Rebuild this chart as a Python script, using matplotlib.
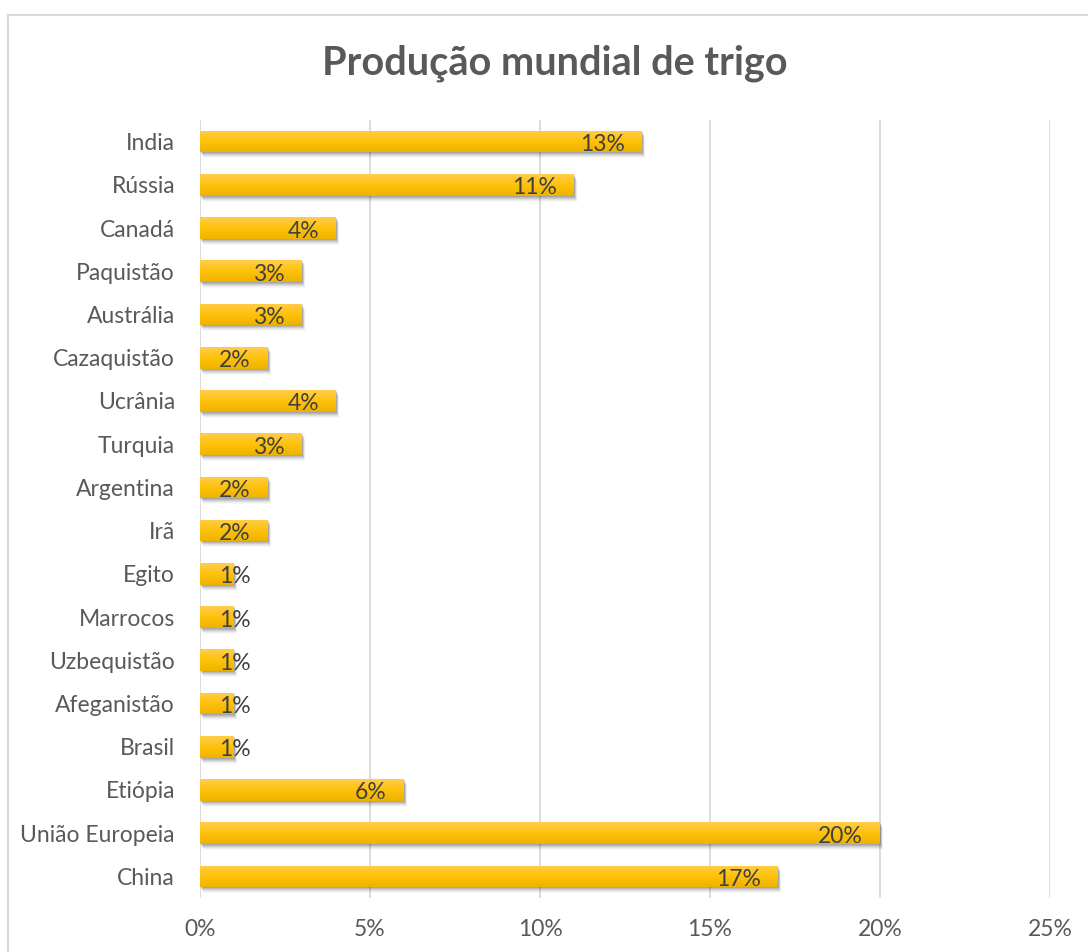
import numpy as np
import matplotlib.pyplot as plt
from matplotlib.patches import Rectangle
from matplotlib.lines import Line2D
from matplotlib.colors import LinearSegmentedColormap
from matplotlib.transforms import offset_copy

plt.rcParams['font.family'] = ['Lato', 'DejaVu Sans']

countries = ['India', 'Rússia', 'Canadá', 'Paquistão', 'Austrália', 'Cazaquistão',
             'Ucrânia', 'Turquia', 'Argentina', 'Irã', 'Egito', 'Marrocos',
             'Uzbequistão', 'Afeganistão', 'Brasil', 'Etiópia', 'União Europeia', 'China']
shares = [13, 11, 4, 3, 3, 2, 4, 3, 2, 2, 1, 1, 1, 1, 1, 6, 20, 17]
xticks = [0, 5, 10, 15, 20, 25]

text_grey = '#595959'
grid_grey = '#d9d9d9'
gold = LinearSegmentedColormap.from_list('gold', ['#ffcd4d', '#ffc20a', '#eeb200'])
fs = 16.5

W, H = 1088, 952
fig = plt.figure(figsize=(W / 100, H / 100), dpi=100)
ax = fig.add_axes([200 / W, 1 - 898 / H, 850 / W, 778 / H])

n = len(countries)
ypos = np.arange(n)
bh = 0.5
grad = np.linspace(0, 1, 64).reshape(-1, 1)

for i, v in zip(ypos, shares):
    # soft drop shadow under each bar
    for k, a in zip(range(1, 7), [0.14, 0.12, 0.10, 0.07, 0.05, 0.03]):
        tr = offset_copy(ax.transData, fig=fig, x=k * 0.5, y=-k * 1.0, units='dots')
        ax.add_patch(Rectangle((0, i - bh / 2), v, bh, transform=tr,
                               facecolor='#303030', edgecolor='none', alpha=a, zorder=2))
    rect = Rectangle((0, i - bh / 2), v, bh, facecolor='none', edgecolor='none', zorder=3)
    ax.add_patch(rect)
    im = ax.imshow(grad, cmap=gold, aspect='auto', origin='upper',
                   extent=(0, v, i + bh / 2, i - bh / 2), zorder=3)
    im.set_clip_path(rect)

    if v * 34 - 17 < 30:
        ax.annotate(f'{v}%', xy=(v, i), xytext=(1, -3), textcoords='offset pixels',
                    ha='center', va='center', fontsize=fs, color='#404040', zorder=4)
    else:
        ax.annotate(f'{v}%', xy=(v, i), xytext=(-17, -3), textcoords='offset pixels',
                    ha='right', va='center', fontsize=fs, color='#404040', zorder=4)

ax.set_xlim(0, 25)
ax.set_ylim(n - 0.5, -0.5)
ax.set_xticks(xticks)
ax.set_xticklabels([f'{t}%' for t in xticks])
ax.set_yticks(ypos)
ax.set_yticklabels(countries)
ax.tick_params(axis='both', length=0, labelsize=fs, labelcolor=text_grey)
ax.tick_params(axis='x', pad=15)
ax.tick_params(axis='y', pad=18)
ax.grid(axis='x', color=grid_grey, linewidth=1.3, zorder=0)
ax.set_axisbelow(True)
for s in ax.spines.values():
    s.set_visible(False)

fig.text(555 / W, 1 - 63 / H, 'Produção mundial de trigo', ha='center', va='center',
         fontsize=28.5, fontweight='bold', color=text_grey)

# chart frame (left and top edges)
fig.add_artist(Line2D([8 / W, 8 / W], [0, 1 - 15 / H], color=grid_grey, linewidth=1.5))
fig.add_artist(Line2D([8 / W, 1], [1 - 15 / H, 1 - 15 / H], color=grid_grey, linewidth=1.5))

fig.savefig('out.png', dpi=100)
